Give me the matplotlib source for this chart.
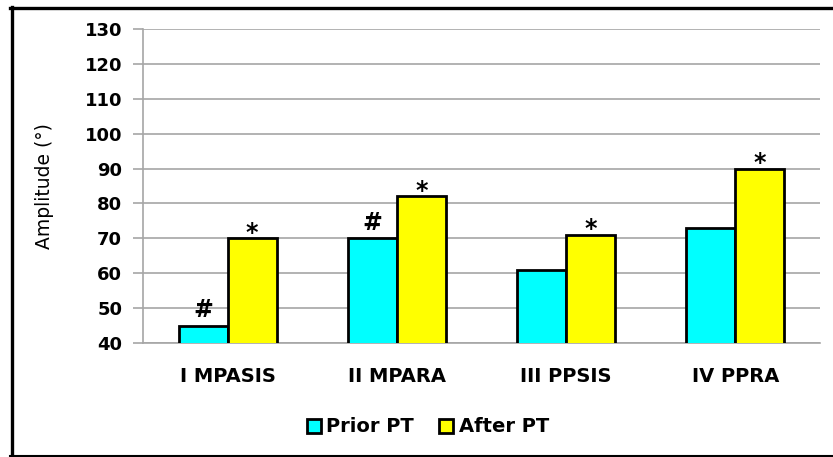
import matplotlib.pyplot as plt
import numpy as np
from matplotlib.lines import Line2D

CATEGORIES = ["I MPASIS", "II MPARA", "III PPSIS", "IV PPRA"]
PRIOR_PT = [45, 70, 61, 73]
AFTER_PT = [70, 82, 71, 90]
PRIOR_MARKS = ["#", "#", "", ""]
AFTER_MARKS = ["*", "*", "*", "*"]
Y_TICKS = [40, 50, 60, 70, 80, 90, 100, 110, 120, 130]

COLORS = {"prior": "#00FFFF", "after": "#FFFF00", "grid": "#A6A6A6"}

plt.rcParams["font.family"] = ["DejaVu Sans"]

W, H = 833, 457
fig = plt.figure(figsize=(W / 100, H / 100), dpi=100)
ax = fig.add_axes([143 / W, 1 - 343 / H, 677 / W, 314 / H])

x = np.arange(len(CATEGORIES))
width = 0.29
bar_kw = dict(edgecolor="black", linewidth=2.0, zorder=3)
prior = ax.bar(x - width / 2, PRIOR_PT, width, color=COLORS["prior"], label="Prior PT", **bar_kw)
after = ax.bar(x + width / 2, AFTER_PT, width, color=COLORS["after"], label="After PT", **bar_kw)

# significance markers above the bars
for bars, marks, dy in ((prior, PRIOR_MARKS, 6), (after, AFTER_MARKS, -1)):
    for rect, mark in zip(bars, marks):
        if not mark:
            continue
        ax.annotate(mark, (rect.get_x() + rect.get_width() / 2, rect.get_height()),
                    xytext=(0, dy), textcoords="offset points", ha="center", va="baseline",
                    fontsize=17, fontweight="bold", zorder=4)

ax.set_ylim(40, 130)
ax.set_xlim(-0.5, len(CATEGORIES) - 0.5)
ax.set_yticks(Y_TICKS)
ax.set_xticks(x)
ax.set_xticklabels(CATEGORIES, fontsize=14, fontweight="bold")
ax.tick_params(axis="x", length=0, pad=17)
ax.tick_params(axis="y", length=7, width=1.2, color=COLORS["grid"], pad=8, labelsize=13)
for lbl in ax.get_yticklabels():
    lbl.set_fontweight("bold")

ax.grid(axis="y", color=COLORS["grid"], linewidth=1.2, zorder=0)
ax.set_axisbelow(True)
for side in ("top", "right"):
    ax.spines[side].set_visible(False)
for side in ("left", "bottom"):
    ax.spines[side].set_color(COLORS["grid"])
    ax.spines[side].set_linewidth(1.2)

ax.set_ylabel("Amplitude (°)", fontsize=13.5)
ax.yaxis.set_label_coords(-0.131, 0.5)

leg = fig.legend(handles=[prior, after], labels=["Prior PT", "After PT"], loc="center",
                 bbox_to_anchor=(428 / W, 1 - 427 / H), ncol=2, frameon=False,
                 prop={"size": 14, "weight": "bold"}, handlelength=0.7, handleheight=0.7,
                 handletextpad=0.3, columnspacing=1.3)
for patch in leg.get_patches():
    patch.set_linewidth(2.0)

# outer frame around the chart
def px_line(xs, ys, lw):
    fig.add_artist(Line2D([v / W for v in xs], [1 - v / H for v in ys],
                          transform=fig.transFigure, color="black", linewidth=lw))

px_line([11.5, 11.5], [7, 457], 2.4)
px_line([10, 833], [8, 8], 2.4)
px_line([10, 833], [455.5, 455.5], 1.5)

fig.savefig("out.png", dpi=100)
